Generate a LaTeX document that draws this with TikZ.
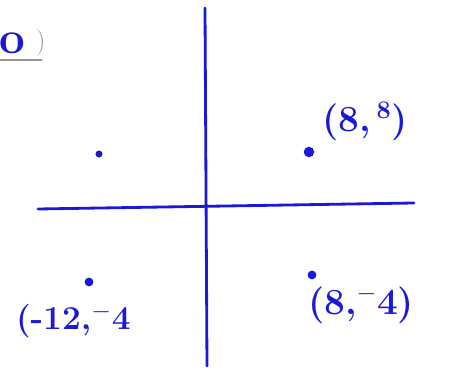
\documentclass[tikz,border=0pt]{standalone}
\usepackage{tikz}
\usetikzlibrary{positioning, calc}
\definecolor{pen}{RGB}{25,25,215}
\definecolor{pencil}{RGB}{150,150,150}

\begin{document}
\begin{tikzpicture}[
    x=0.02cm, y=-0.02cm,
    axis/.style={draw=pen, line width=1.6pt, line cap=round},
    pt/.style={circle, fill=pen, inner sep=0pt, minimum size=#1},
    pt/.default=6pt,
    lbl/.style={text=pen, font=\fontsize{21}{24}\selectfont\bfseries, inner sep=1pt}
]
    \useasboundingbox (0,0) rectangle (458,371);

    % Axes
    \coordinate (ytop) at (205,8);
    \coordinate (ybot) at (207,366);
    \coordinate (xleft) at (38,209);
    \coordinate (xright) at (414,203);
    \path[axis] (ytop) -- (ybot);
    \path[axis] (xleft) -- (xright);

    % Points
    \node[pt=4pt] (p1) at (99,154) {};
    \node[pt] (p2) at (309,152) {};
    \node[pt=5pt] (p3) at (89,282) {};
    \node[pt=5pt] (p4) at (312,275) {};

    % Labels
    \node[lbl, anchor=south west] (l2) at (320,143) {(8,\,$^{\mathbf{8}}$)};
    \node[lbl, anchor=north west, font=\fontsize{19}{22}\selectfont\bfseries] (l3) at (14,302) {(-12,$^{\mathbf{-}}$4};
    \node[lbl, anchor=north west] (l4) at (306,284) {(8,$^{\mathbf{-}}$4)};

    % Cut-off heading
    \node[lbl, anchor=south west, font=\fontsize{26}{28}\selectfont\bfseries] (head) at (-3,56) {o};
    \node[right=4pt of head, text=pencil, font=\fontsize{15}{17}\selectfont, inner sep=1pt] (paren) {)};
    \draw[pencil, line width=0.8pt] (0,60) -- (42,60);
\end{tikzpicture}
\end{document}
